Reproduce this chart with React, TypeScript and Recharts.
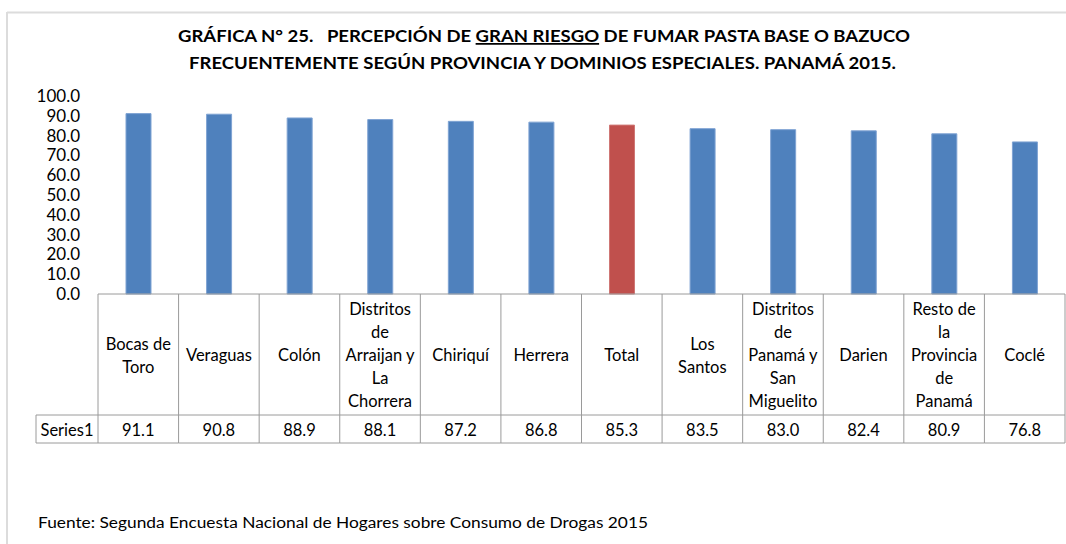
import React from 'react';
import { BarChart, Bar, XAxis, YAxis, Cell } from 'recharts';

const categories = [
  'Bocas de Toro',
  'Veraguas',
  'Colón',
  'Distritos de Arraijan y La Chorrera',
  'Chiriquí',
  'Herrera',
  'Total',
  'Los Santos',
  'Distritos de Panamá y San Miguelito',
  'Darien',
  'Resto de la Provincia de Panamá',
  'Coclé',
];
const values = [91.1, 90.8, 88.9, 88.1, 87.2, 86.8, 85.3, 83.5, 83.0, 82.4, 80.9, 76.8];
const labelLines = [
  ['Bocas de', 'Toro'],
  ['Veraguas'],
  ['Colón'],
  ['Distritos', 'de', 'Arraijan y', 'La', 'Chorrera'],
  ['Chiriquí'],
  ['Herrera'],
  ['Total'],
  ['Los', 'Santos'],
  ['Distritos', 'de', 'Panamá y', 'San', 'Miguelito'],
  ['Darien'],
  ['Resto de', 'la', 'Provincia', 'de', 'Panamá'],
  ['Coclé'],
];
const yTicks = [0, 10, 20, 30, 40, 50, 60, 70, 80, 90, 100];
const seriesName = 'Series1';
const highlightCategory = 'Total';
const titleLine1a = 'GRÁFICA N° 25.   PERCEPCIÓN DE ';
const titleUnderlined = 'GRAN RIESGO';
const titleLine1b = ' DE FUMAR PASTA BASE O BAZUCO';
const titleLine2 = 'FRECUENTEMENTE SEGÚN PROVINCIA Y DOMINIOS ESPECIALES. PANAMÁ 2015.';
const sourceText = 'Fuente: Segunda Encuesta Nacional de Hogares sobre Consumo de Drogas 2015';

const data = categories.map((name, i) => ({ name, value: values[i] }));

const W = 1066;
const H = 544;
const TOP = 96;
const AXIS_Y = 294;
const Y_W = 98;
const RIGHT = 1;
const X_H = H - AXIS_Y;
const PLOT_W = W - Y_W - RIGHT;
const CELL_W = PLOT_W / categories.length;
const ROW_TOP = 415;
const ROW_BOTTOM = 443;
const SERIES_LEFT = 36;
const GRID = '#9a9a9a';
const FONT = 'Lato, "Open Sans", sans-serif';
const BLUE = '#4F81BD';
const RED = '#C0504D';
const TEXT = '#000000';
const TABLE_FS = 16.5;

function TableTick(props: any) {
  const { x, payload } = props;
  const idx = categories.indexOf(payload.value);
  const lines = labelLines[idx] || [payload.value];
  const half = CELL_W / 2;
  const lh = 23;
  const center = (AXIS_Y + ROW_TOP) / 2 + 1;
  const startY = center - ((lines.length - 1) * lh) / 2;
  const last = idx === categories.length - 1;
  return (
    <g>
      <line x1={x - half} y1={AXIS_Y} x2={x - half} y2={ROW_BOTTOM} stroke={GRID} strokeWidth={1} />
      {last && <line x1={x + half} y1={AXIS_Y} x2={x + half} y2={ROW_BOTTOM} stroke={GRID} strokeWidth={1} />}
      <line x1={x - half} y1={ROW_TOP} x2={x + half} y2={ROW_TOP} stroke={GRID} strokeWidth={1} />
      <line x1={x - half} y1={ROW_BOTTOM} x2={x + half} y2={ROW_BOTTOM} stroke={GRID} strokeWidth={1} />
      {lines.map((l, i) => (
        <text key={i} x={x} y={startY + i * lh} dy="0.36em" textAnchor="middle" fontSize={TABLE_FS} fill={TEXT} fontFamily={FONT}>
          {l}
        </text>
      ))}
      <text x={x} y={(ROW_TOP + ROW_BOTTOM) / 2 + 1} dy="0.36em" textAnchor="middle" fontSize={TABLE_FS} fill={TEXT} fontFamily={FONT}>
        {values[idx].toFixed(1)}
      </text>
      {idx === 0 && (
        <g>
          <line x1={SERIES_LEFT} y1={ROW_TOP} x2={x - half} y2={ROW_TOP} stroke={GRID} strokeWidth={1} />
          <line x1={SERIES_LEFT} y1={ROW_BOTTOM} x2={x - half} y2={ROW_BOTTOM} stroke={GRID} strokeWidth={1} />
          <line x1={SERIES_LEFT} y1={ROW_TOP} x2={SERIES_LEFT} y2={ROW_BOTTOM} stroke={GRID} strokeWidth={1} />
          <text x={(SERIES_LEFT + x - half) / 2} y={(ROW_TOP + ROW_BOTTOM) / 2 + 1} dy="0.36em" textAnchor="middle" fontSize={TABLE_FS} fill={TEXT} fontFamily={FONT}>
            {seriesName}
          </text>
        </g>
      )}
    </g>
  );
}

export default function App() {
  return (
    <div style={{ position: 'absolute', left: 0, top: 0, width: W, height: H, background: '#fff', fontFamily: FONT }}>
      <BarChart width={W} height={H} data={data} margin={{ top: TOP, right: RIGHT, bottom: 0, left: 0 }} barCategoryGap={0}>
        <YAxis
          width={Y_W}
          domain={[0, 100]}
          ticks={yTicks}
          interval={0}
          axisLine={false}
          tickLine={false}
          tickMargin={12}
          tickFormatter={(v: number) => v.toFixed(1)}
          tick={{ fontSize: 17, fill: TEXT, fontFamily: FONT }}
        />
        <XAxis
          dataKey="name"
          height={X_H}
          interval={0}
          tickLine={false}
          axisLine={{ stroke: GRID, strokeWidth: 1 }}
          tick={<TableTick />}
        />
        <Bar dataKey="value" barSize={25} isAnimationActive={false}>
          {data.map((d, i) => (
            <Cell
              key={i}
              fill={d.name === highlightCategory ? RED : BLUE}
              stroke={d.name === highlightCategory ? '#cf7775' : '#7fa3d3'}
              strokeWidth={1}
            />
          ))}
        </Bar>
      </BarChart>
      <svg width={W} height={H} style={{ position: 'absolute', left: 0, top: 0, pointerEvents: 'none' }}>
        <line x1={7} y1={12.5} x2={W} y2={12.5} stroke="#dcdcdc" strokeWidth={2} />
        <line x1={7} y1={12} x2={7} y2={H} stroke="#dcdcdc" strokeWidth={2} />
        <text x={544} y={42} textAnchor="middle" fontFamily={FONT} fontWeight="bold" fontSize={17.5} fill={TEXT} textLength={732} lengthAdjust="spacingAndGlyphs" xmlSpace="preserve">
          <tspan>{titleLine1a}</tspan>
          <tspan textDecoration="underline">{titleUnderlined}</tspan>
          <tspan>{titleLine1b}</tspan>
        </text>
        <text x={542.5} y={69} textAnchor="middle" fontFamily={FONT} fontWeight="bold" fontSize={17.5} fill={TEXT} textLength={707} lengthAdjust="spacingAndGlyphs">
          {titleLine2}
        </text>
        <text x={38} y={528} fontFamily={FONT} fontSize={15.5} fill={TEXT} textLength={610} lengthAdjust="spacingAndGlyphs">
          {sourceText}
        </text>
      </svg>
    </div>
  );
}
